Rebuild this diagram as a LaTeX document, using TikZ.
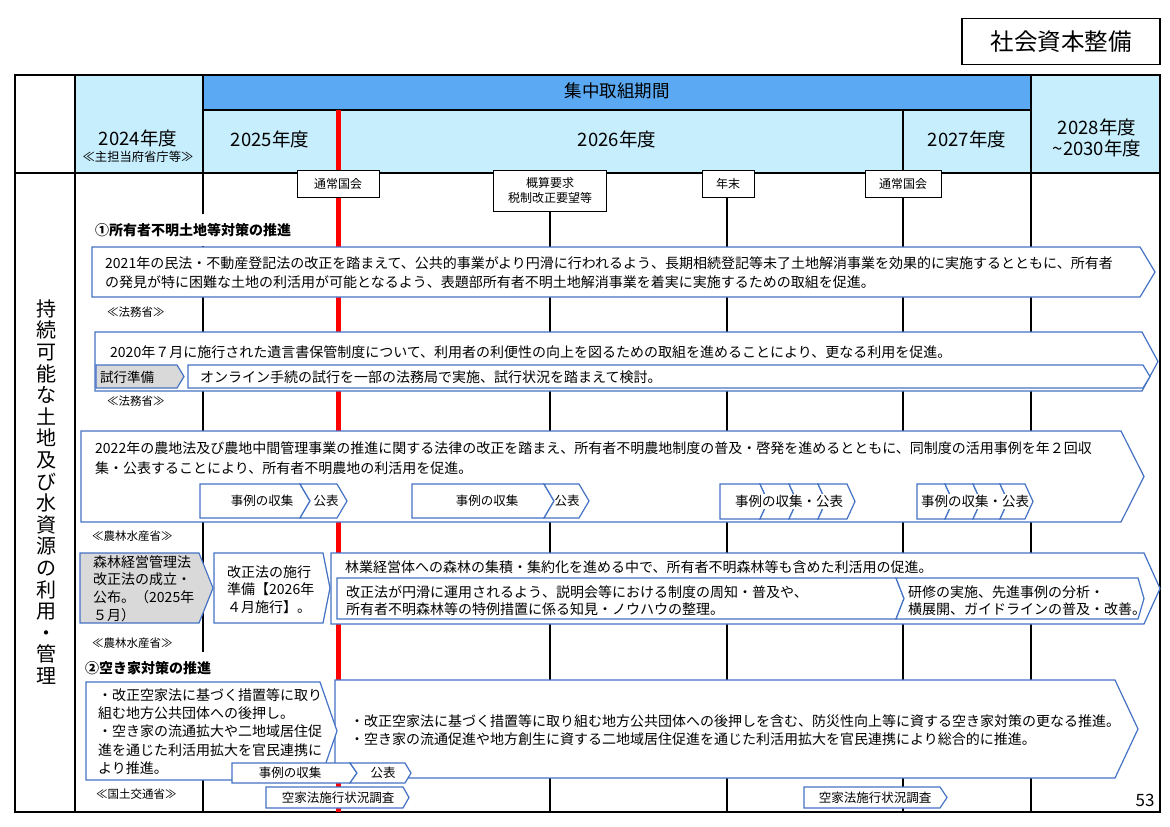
\documentclass[tikz,border=0pt]{standalone}
\usepackage{fontspec}
\setmainfont{Noto Sans CJK JP}
\definecolor{bband}{HTML}{5AA9F2}
\definecolor{lblue}{HTML}{C6EEFD}
\definecolor{bbord}{HTML}{4472C4}
\definecolor{gfill}{HTML}{D9D9D9}
\newcommand{\chevR}[6]{\draw[#1] (#2,#3) -- (#4,#3) -- (#6,{(#3+#5)/2}) -- (#4,#5) -- (#2,#5) -- cycle;}
\newcommand{\chevN}[7]{\draw[#1] (#2,#3) -- (#4,#3) -- (#6,{(#3+#5)/2}) -- (#4,#5) -- (#2,#5) -- ({#2+#7},{(#3+#5)/2}) -- cycle;}
\begin{document}
\begin{tikzpicture}[x=1pt,y=-1pt,
  box/.style={draw=bbord, fill=white, line width=1.2pt},
  gbox/.style={draw=bbord, fill=gfill, line width=1.2pt},
  thk/.style={line width=2.4pt},
  thn/.style={line width=1.1pt},
  med/.style={line width=1.8pt},
  txt/.style={inner sep=0pt, anchor=west, align=left, font=\fontsize{14}{19}\selectfont},
  sm/.style={inner sep=0pt, anchor=west, font=\fontsize{11.5}{14}\selectfont},
  lbl/.style={inner sep=0pt, font=\fontsize{12.5}{15}\selectfont},
  slbl/.style={inner xsep=0pt, inner ysep=1pt, fill=white, font=\fontsize{13.5}{15}\selectfont},
  ms/.style={draw=black, fill=white, line width=0.9pt, inner sep=0pt, align=center, font=\fontsize{12}{15}\selectfont},
  ttl/.style={anchor=west, fill=white, inner xsep=2pt, inner ysep=9pt, font=\bfseries\fontsize{14}{17}\selectfont},
  hdr/.style={inner sep=0pt, align=center, font=\fontsize{17.5}{21}\selectfont},
  yr/.style={inner sep=0pt, align=center, font=\fontsize{18.5}{21}\selectfont}]
\useasboundingbox (0,0) rectangle (1170,827);
\fill[white] (0,0) rectangle (1170,827);
% title box
\node[draw=black, line width=1.5pt, minimum width=198pt, minimum height=46pt, inner sep=0pt, font=\fontsize{23.5}{26}\selectfont] (title) at (1061,41.5) {社会資本整備};
% header fills
\fill[lblue] (75,75) rectangle (1160,173);
\fill[bband] (203,75) rectangle (1031,110);
% grid
\draw[thn] (203,173) -- (203,812);
\draw[thn] (550,173) -- (550,812);
\draw[med] (727,173) -- (727,812);
\draw[thn] (903,110) -- (903,812);
\draw[thk] (1031,75) -- (1031,812);
\draw[thk] (75,75) -- (75,812);
\draw[thk] (203,75) -- (203,173);
\draw[thk] (203,110) -- (1031,110);
\draw[thk] (15,173) -- (1160,173);
\draw[line width=1.6pt] (15,75) rectangle (1160,812);
\draw[red, line width=5pt] (338,110) -- (338,812);
% header texts
\node[hdr] (hp) at (617,91) {集中取組期間};
\node[yr] (h24) at (138,138) {2024年度};
\node[inner sep=0pt, font=\fontsize{12.3}{14}\selectfont] (h24s) at (138,157) {≪主担当府省庁等≫};
\node[yr] (h25) at (270,139) {2025年度};
\node[yr] (h26) at (617,139) {2026年度};
\node[yr] (h27) at (967,139) {2027年度};
\node[yr] (h28) at (1097,138) {2028年度\\\textasciitilde2030年度};
% milestones
\node[ms, minimum width=82pt, minimum height=27pt] (m1) at (338,183.5) {通常国会};
\node[ms, minimum width=113pt, minimum height=41pt] (m2) at (550,190.5) {概算要求\\税制改正要望等};
\node[ms, minimum width=52pt, minimum height=27pt] (m3) at (728,183.5) {年末};
\node[ms, minimum width=76pt, minimum height=27pt] (m4) at (903,183.5) {通常国会};
% left label
\node[inner sep=0pt, align=center, font=\fontsize{20}{21.6}\selectfont] (side) at (46,492) {持\\続\\可\\能\\な\\土\\地\\及\\び\\水\\資\\源\\の\\利\\用\\・\\管\\理};
% section 1
\node[ttl] (s1) at (93,230) {①所有者不明土地等対策の推進};
\chevR{box}{92}{247}{1140}{297}{1155}
\node[txt] (t1) at (105,273) {2021年の民法・不動産登記法の改正を踏まえて、公共的事業がより円滑に行われるよう、長期相続登記等未了土地解消事業を効果的に実施するとともに、所有者\\の発見が特に困難な土地の利活用が可能となるよう、表題部所有者不明土地解消事業を着実に実施するための取組を促進。};
\node[sm] (o1) at (107,312) {≪法務省≫};
\chevR{box}{95}{332}{1142}{391}{1158}
\node[txt] (t2) at (110,352) {2020年７月に施行された遺言書保管制度について、利用者の利便性の向上を図るための取組を進めることにより、更なる利用を促進。};
\chevR{gbox}{96}{365}{177}{388}{184}
\node[txt, font=\fontsize{13.5}{16}\selectfont] (t2a) at (100,377) {試行準備};
\chevR{box}{188}{365}{1143}{388}{1150}
\node[txt] (t2b) at (200,377) {オンライン手続の試行を一部の法務局で実施、試行状況を踏まえて検討。};
\node[sm] (o2) at (107,401) {≪法務省≫};
\chevR{box}{81}{431}{1121}{522}{1144}
\node[txt, font=\fontsize{14}{20}\selectfont] (t3) at (95,458) {2022年の農地法及び農地中間管理事業の推進に関する法律の改正を踏まえ、所有者不明農地制度の普及・啓発を進めるとともに、同制度の活用事例を年２回収\\集・公表することにより、所有者不明農地の利活用を促進。};
\chevR{box}{200}{484}{300}{518}{310}
\chevN{box}{300}{484}{337}{518}{347}{10}
\node[lbl] (c1) at (262,501) {事例の収集};
\node[lbl] (c2) at (326,501) {公表};
\chevR{box}{412}{484}{544}{518}{554}
\chevN{box}{544}{484}{579}{518}{589}{10}
\node[lbl] (c3) at (487,501) {事例の収集};
\node[lbl] (c4) at (567,501) {公表};
\chevR{box}{720}{484}{760}{519}{768}
\chevN{box}{760}{484}{789}{519}{797}{8}
\chevN{box}{789}{484}{818}{519}{826}{8}
\chevN{box}{818}{484}{847}{519}{855}{8}
\node[slbl] (c5) at (789,501.5) {事例の収集・公表};
\chevR{box}{917}{484}{945}{519}{953}
\chevN{box}{945}{484}{973}{519}{981}{8}
\chevN{box}{973}{484}{1000}{519}{1008}{8}
\chevN{box}{1000}{484}{1025}{519}{1033}{8}
\node[slbl] (c6) at (975,501.5) {事例の収集・公表};
\node[sm] (o3) at (92,536) {≪農林水産省≫};
% forest
\chevR{gbox}{80}{553}{199}{623}{213}
\node[txt, font=\fontsize{14}{17.7}\selectfont] (f1) at (93,588.5) {森林経営管理法\\改正法の成立・\\公布。（2025年\\５月）};
\chevR{box}{214}{553}{323}{623}{330}
\node[txt, font=\fontsize{14}{17.5}\selectfont] (f2) at (227,589.5) {改正法の施行\\準備【2026年\\４月施行】。};
\chevR{box}{331}{553}{1144}{624}{1160}
\node[txt] (f3) at (345,567) {林業経営体への森林の集積・集約化を進める中で、所有者不明森林等も含めた利活用の促進。};
\chevR{box}{337}{578}{896}{619}{904}
\chevN{box}{896}{578}{1138}{619}{1144}{8}
\node[txt, font=\fontsize{14}{17}\selectfont] (f4) at (346,600.5) {改正法が円滑に運用されるよう、説明会等における制度の周知・普及や、\\所有者不明森林等の特例措置に係る知見・ノウハウの整理。};
\node[txt, font=\fontsize{14}{17}\selectfont] (f5) at (908,600.5) {研修の実施、先進事例の分析・\\横展開、ガイドラインの普及・改善。};
\node[sm] (o4) at (92,643) {≪農林水産省≫};
% section 2
\node[ttl] (s2) at (83,668) {②空き家対策の推進};
\chevR{box}{335}{680}{1115}{778}{1138}
\chevR{box}{86}{682}{320}{780}{337}
\node[txt, font=\fontsize{14}{18.2}\selectfont] (a1) at (98,731.5) {・改正空家法に基づく措置等に取り\\組む地方公共団体への後押し。\\・空き家の流通拡大や二地域居住促\\進を通じた利活用拡大を官民連携に\\より推進。};
\node[txt, font=\fontsize{14}{18}\selectfont] (a2) at (350,730.5) {・改正空家法に基づく措置等に取り組む地方公共団体への後押しを含む、防災性向上等に資する空き家対策の更なる推進。\\・空き家の流通促進や地方創生に資する二地域居住促進を通じた利活用拡大を官民連携により総合的に推進。};
\chevR{box}{232}{763}{350}{783}{357}
\chevN{box}{350}{763}{405}{783}{411}{7}
\node[lbl] (a3) at (290,773) {事例の収集};
\node[lbl] (a4) at (383,773) {公表};
\node[sm] (o5) at (96,794) {≪国土交通省≫};
\chevR{box}{266}{787}{403}{808}{409}
\node[lbl] (a5) at (338,797.5) {空家法施行状況調査};
\chevR{box}{804}{787}{940}{808}{947}
\node[lbl] (a6) at (875,797.5) {空家法施行状況調査};
\node[inner sep=0pt, font=\fontsize{17}{20}\selectfont] (pg) at (1145,800) {53};
\end{tikzpicture}
\end{document}
